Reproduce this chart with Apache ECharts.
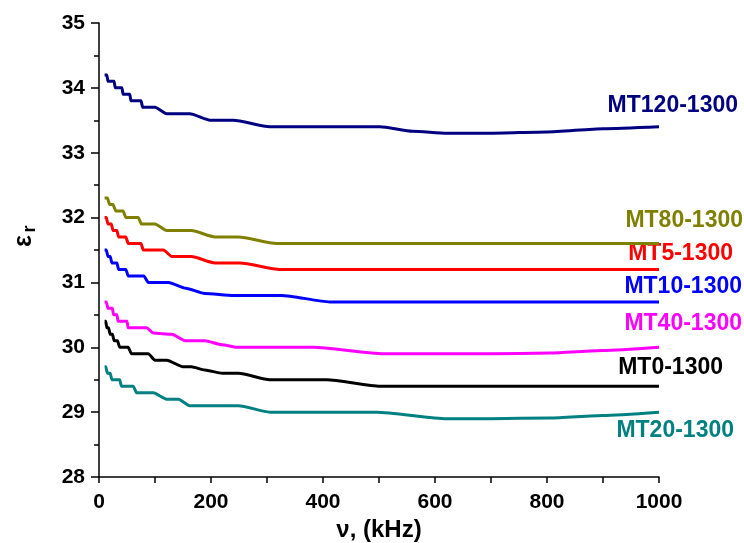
<!DOCTYPE html>
<html>
<head>
<meta charset="utf-8">
<script src="https://cdn.jsdelivr.net/npm/echarts@6/dist/echarts.min.js"></script>
<style>
html,body{margin:0;padding:0;background:#fff;}
#chart{width:744px;height:543px;}
</style>
</head>
<body>
<div id="chart"></div>
<script>
// ---- data (frequency kHz, relative permittivity) ----
const seriesNames = ['MT120-1300','MT80-1300','MT5-1300','MT10-1300','MT40-1300','MT0-1300','MT20-1300'];
const xTicks = [0,200,400,600,800,1000];
const yTicks = [28,29,30,31,32,33,34,35];

const MT120 = [[10,34.2],[14,34.2],[16,34.1],[27,34.1],[29,34.0],[41,34.0],[43,33.9],[55,33.9],[57,33.8],[75,33.8],[78,33.7],[100,33.7],[121,33.6],[162,33.6],[200,33.5],[240,33.5],[305,33.4],[502,33.4],[560,33.33],[621,33.3],[700,33.3],[800,33.32],[900,33.37],[1000,33.4]];
const MT80 = [[10,32.3],[15,32.3],[19,32.2],[25,32.2],[30,32.1],[43,32.1],[48,32.0],[70,32.0],[76,31.9],[100,31.9],[121,31.8],[165,31.8],[207,31.7],[249,31.7],[317,31.6],[1000,31.6]];
const MT5 = [[10,32.0],[13,32.0],[16,31.9],[22,31.9],[25,31.8],[32,31.8],[35,31.7],[48,31.7],[52,31.6],[75,31.6],[79,31.5],[115,31.5],[130,31.4],[165,31.4],[207,31.3],[252,31.3],[323,31.2],[1000,31.2]];
const MT10 = [[10,31.5],[13,31.5],[16,31.4],[20,31.4],[23,31.3],[32,31.3],[35,31.2],[48,31.2],[52,31.1],[80,31.1],[88,31.0],[124,31.0],[155,30.91],[189,30.83],[240,30.8],[326,30.8],[412,30.7],[1000,30.7]];
const MT40 = [[10,30.7],[13,30.7],[16,30.6],[24,30.6],[26,30.5],[32,30.5],[34,30.4],[50,30.4],[52,30.3],[85,30.3],[97,30.22],[130,30.2],[154,30.1],[189,30.1],[220,30.04],[246,30.0],[382,30.0],[508,29.9],[700,29.9],[805,29.91],[900,29.95],[1000,30.0]];
const MT0 = [[10,30.4],[12,30.4],[14,30.3],[17,30.3],[20,30.2],[24,30.2],[27,30.1],[33,30.1],[37,30.0],[52,30.0],[58,29.9],[88,29.9],[100,29.8],[121,29.8],[150,29.7],[165,29.7],[189,29.65],[220,29.6],[249,29.6],[305,29.5],[407,29.5],[502,29.4],[1000,29.4]];
const MT20 = [[10,29.7],[12,29.7],[15,29.6],[20,29.6],[23,29.5],[37,29.5],[40,29.4],[61,29.4],[67,29.3],[97,29.3],[121,29.2],[142,29.2],[162,29.1],[249,29.1],[305,29.0],[496,29.0],[621,28.9],[700,28.9],[805,28.91],[900,28.95],[1000,29.0]];
const seriesData = [MT120, MT80, MT5, MT10, MT40, MT0, MT20];

// ---- styles ----
const colors = ['#000080','#808000','#ff0000','#0000ff','#ff00ff','#000000','#008080'];
const FONT = "'Liberation Sans', Arial, sans-serif";
const tickSize = 21;
const labelSize = 23;
const titleSize = 24;

// label layout (pixel anchor: right edge, vertical centre)
const labelPos = [[738,106],[743,221],[733,254],[742,287],[742,324],[723,368],[734,431]];

const chart = echarts.init(document.getElementById('chart'), null, {renderer:'canvas'});
const option = {
  animation:false,
  backgroundColor:'#fff',
  grid:{left:99,right:85,top:23,bottom:66,containLabel:false,outerBoundsMode:'none'},
  xAxis:{
    type:'value',min:0,max:1000,interval:200,
    name:'\u03bd, (kHz)',nameLocation:'middle',nameGap:33,
    nameTextStyle:{fontFamily:FONT,fontWeight:'bold',fontSize:titleSize,color:'#000'},
    axisLine:{show:true,onZero:false,lineStyle:{color:'#000',width:1.5}},
    axisTick:{show:true,inside:false,length:6,lineStyle:{color:'#000',width:1.5}},
    minorTick:{show:true,splitNumber:2,length:6,lineStyle:{color:'#000',width:1.5}},
    axisLabel:{fontFamily:FONT,fontWeight:'bold',fontSize:tickSize,color:'#000',margin:15,
      formatter:function(v){return xTicks.indexOf(v)>=0?String(v):'';}},
    splitLine:{show:false}
  },
  yAxis:{
    type:'value',min:28,max:35,interval:1,
    axisLine:{show:true,onZero:false,lineStyle:{color:'#000',width:1.5}},
    axisTick:{show:true,inside:false,length:8,lineStyle:{color:'#000',width:1.5}},
    minorTick:{show:true,splitNumber:2,length:5,lineStyle:{color:'#000',width:1.5}},
    axisLabel:{fontFamily:FONT,fontWeight:'bold',fontSize:tickSize,color:'#000',margin:14,
      formatter:function(v){return yTicks.indexOf(v)>=0?String(v):'';}},
    splitLine:{show:false}
  },
  series: seriesNames.map(function(n,i){
    return {
      name:n,type:'line',data:seriesData[i],showSymbol:false,symbol:'none',
      smooth:0.2,smoothMonotone:'x',
      lineStyle:{color:colors[i],width:3},
      itemStyle:{color:colors[i]}
    };
  }),
  graphic: seriesNames.map(function(n,i){
    return {type:'text',x:labelPos[i][0],y:labelPos[i][1],silent:true,
      style:{text:n,fill:colors[i],font:'bold '+labelSize+'px '+FONT,align:'right',verticalAlign:'middle'}};
  }).concat([
    {type:'group',x:24,y:236,rotation:Math.PI/2,children:[
      {type:'text',x:-5,y:0,style:{text:'\u03b5',fill:'#000',font:'bold 25px '+FONT,align:'center',verticalAlign:'middle'}},
      {type:'text',x:7,y:6,style:{text:'r',fill:'#000',font:'bold 18px '+FONT,align:'center',verticalAlign:'middle'}}
    ]}
  ])
};
chart.setOption(option);
</script>
</body>
</html>
